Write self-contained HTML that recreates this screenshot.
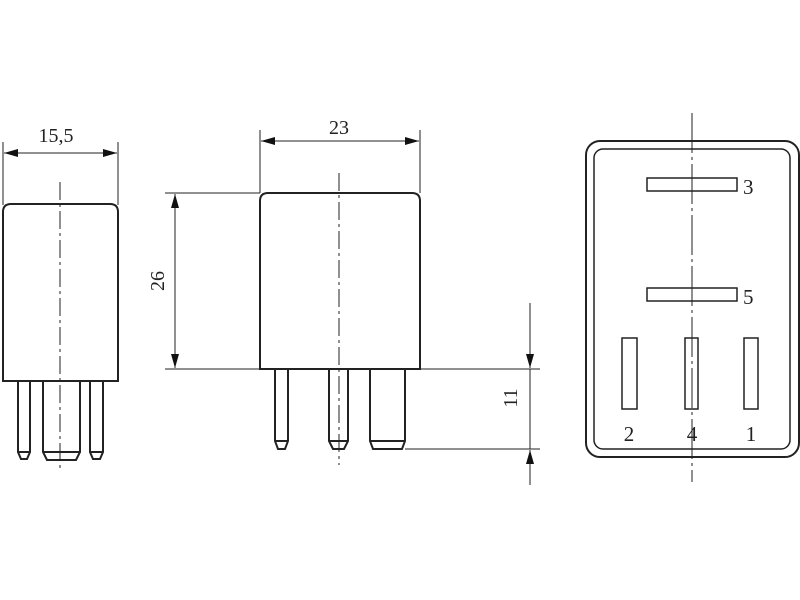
<!DOCTYPE html>
<html><head><style>body{margin:0;background:#fff}svg{display:block}</style></head>
<body>
<svg width="800" height="600" viewBox="0 0 800 600" xmlns="http://www.w3.org/2000/svg" font-family="Liberation Serif, serif" fill="none" stroke="#222">
<defs>
<marker id="a" viewBox="0 0 14 8" refX="14" refY="4" markerWidth="14" markerHeight="8" markerUnits="userSpaceOnUse" orient="auto-start-reverse"><path d="M0,0L14,4L0,8z" fill="#111" stroke="none"/></marker>
</defs>
<!-- Left view -->
<g stroke-width="1">
<line x1="3" y1="142" x2="3" y2="205"/><line x1="118" y1="142" x2="118" y2="205"/>
<line x1="4" y1="153" x2="117" y2="153" marker-start="url(#a)" marker-end="url(#a)"/>
<line x1="60" y1="182" x2="60" y2="470" stroke-dasharray="18,4,3,4"/>
</g>
<text x="56" y="142" font-size="20" text-anchor="middle" fill="#222" stroke="none">15,5</text>
<g stroke-width="2">
<path d="M3,381 L3,212 Q3,204 11,204 L110,204 Q118,204 118,212 L118,381 Z"/>
<path d="M18,381 L18,452 L21,459 L27,459 L30,452 L30,381 M18,452 L30,452"/>
<path d="M43,381 L43,452 L47,460 L76,460 L80,452 L80,381 M43,452 L80,452"/>
<path d="M90,381 L90,452 L93,459 L100,459 L103,452 L103,381 M90,452 L103,452"/>
</g>
<!-- Center view -->
<g stroke-width="1">
<line x1="260" y1="130" x2="260" y2="193"/><line x1="420" y1="130" x2="420" y2="193"/>
<line x1="261" y1="141" x2="419" y2="141" marker-start="url(#a)" marker-end="url(#a)"/>
<line x1="165" y1="193" x2="260" y2="193"/>
<line x1="165" y1="369" x2="540" y2="369"/>
<line x1="175" y1="194" x2="175" y2="368" marker-start="url(#a)" marker-end="url(#a)"/>
<line x1="405" y1="449" x2="540" y2="449"/>
<line x1="530" y1="303" x2="530" y2="368" marker-end="url(#a)"/>
<line x1="530" y1="369" x2="530" y2="449"/>
<line x1="530" y1="485" x2="530" y2="450" marker-end="url(#a)"/>
<line x1="339" y1="173" x2="339" y2="465" stroke-dasharray="18,4,3,4"/>
</g>
<text x="339" y="134" font-size="20" text-anchor="middle" fill="#222" stroke="none">23</text>
<text transform="translate(164,281) rotate(-90)" font-size="20" text-anchor="middle" fill="#222" stroke="none">26</text>
<text transform="translate(517,398) rotate(-90)" font-size="20" text-anchor="middle" fill="#222" stroke="none">11</text>
<g stroke-width="2">
<path d="M260,369 L260,201 Q260,193 268,193 L412,193 Q420,193 420,201 L420,369 Z"/>
<path d="M275,369 L275,441 L278,449 L285,449 L288,441 L288,369 M275,441 L288,441"/>
<path d="M329,369 L329,441 L333,449 L344,449 L348,441 L348,369 M329,441 L348,441"/>
<path d="M370,369 L370,441 L373,449 L402,449 L405,441 L405,369 M370,441 L405,441"/>
</g>
<!-- Right view -->
<g stroke-width="2">
<rect x="586" y="141" width="213" height="316" rx="14"/>
<rect x="594" y="149" width="196" height="300" rx="9" stroke-width="1.5"/>
<rect x="647" y="178" width="90" height="13" stroke-width="1.5"/>
<rect x="647" y="288" width="90" height="13" stroke-width="1.5"/>
<rect x="622" y="338" width="15" height="71" stroke-width="1.5"/>
<rect x="685" y="338" width="13" height="71" stroke-width="1.5"/>
<rect x="744" y="338" width="14" height="71" stroke-width="1.5"/>
</g>
<line x1="692" y1="113" x2="692" y2="482" stroke-width="1" stroke-dasharray="40,4,3,4"/>
<g font-size="21" fill="#222" stroke="none">
<text x="743" y="194">3</text>
<text x="743" y="304">5</text>
<text x="629" y="441" text-anchor="middle">2</text>
<text x="692" y="441" text-anchor="middle">4</text>
<text x="751" y="441" text-anchor="middle">1</text>
</g>
</svg>
</body></html>
